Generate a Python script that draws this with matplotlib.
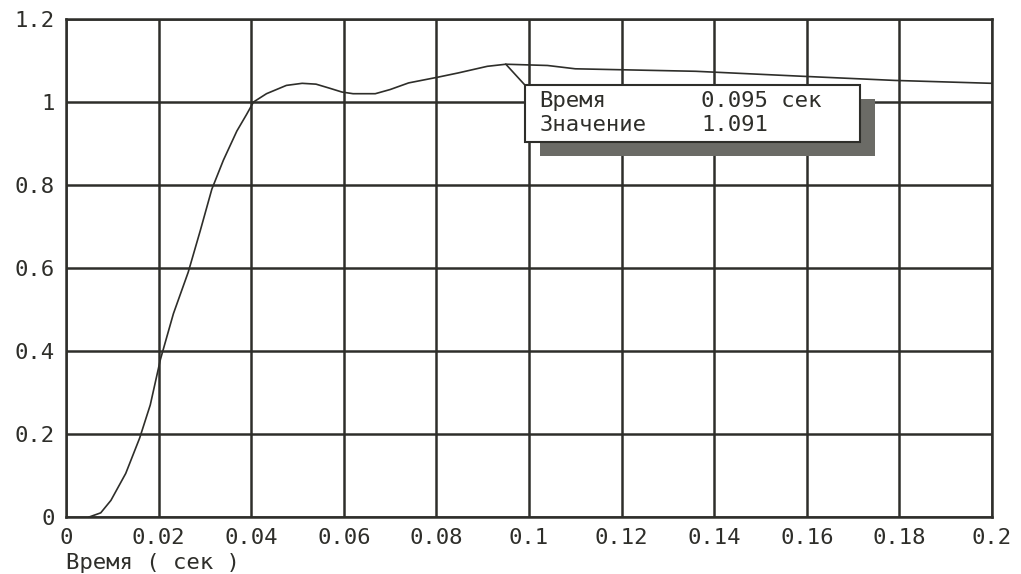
import matplotlib
matplotlib.use('Agg')
import matplotlib.pyplot as plt
from matplotlib.patches import Rectangle

# step response
t = [0.005, 0.0075, 0.0097, 0.0129, 0.0159, 0.0182, 0.0204, 0.0232, 0.0264,
     0.029, 0.0315, 0.034, 0.0369, 0.039, 0.0405, 0.0433, 0.0476, 0.051,
     0.054, 0.057, 0.0596, 0.062, 0.0668, 0.070, 0.074, 0.0804, 0.0847,
     0.091, 0.095, 0.104, 0.110, 0.136, 0.159, 0.179, 0.2]
y = [0.0, 0.01, 0.04, 0.105, 0.19, 0.27, 0.38, 0.49, 0.59,
     0.69, 0.79, 0.86, 0.93, 0.97, 1.0, 1.02, 1.04, 1.045,
     1.043, 1.033, 1.024, 1.02, 1.02, 1.03, 1.046, 1.06, 1.07,
     1.086, 1.091, 1.088, 1.08, 1.074, 1.062, 1.052, 1.045]

x_ticks = [0, 0.02, 0.04, 0.06, 0.08, 0.1, 0.12, 0.14, 0.16, 0.18, 0.2]
x_labels = ['0', '0.02', '0.04', '0.06', '0.08', '0.1', '0.12', '0.14', '0.16', '0.18', '0.2']
y_ticks = [0, 0.2, 0.4, 0.6, 0.8, 1.0, 1.2]
y_labels = ['0', '0.2', '0.4', '0.6', '0.8', '1', '1.2']

cursor_t = 0.095
cursor_val = 1.091
box_lines = [('Время', '0.095 сек'), ('Значение', '1.091')]

ink = '#2e2e2a'
plt.rcParams['font.family'] = ['DejaVu Sans Mono']

fig = plt.figure(figsize=(10.21, 5.74), dpi=100)
ax = fig.add_axes([66 / 1021, 1 - 517 / 574, 926 / 1021, 498 / 574])
ax.set_xlim(0, 0.2)
ax.set_ylim(0, 1.2)
ax.set_xticks(x_ticks, x_labels)
ax.set_yticks(y_ticks, y_labels)
ax.tick_params(length=0, pad=8, labelsize=16, colors=ink)
ax.grid(True, color=ink, lw=1.8)
for s in ax.spines.values():
    s.set_color(ink)
    s.set_linewidth(1.8)

ax.plot(t, y, color=ink, lw=1.2, clip_on=False)

# readout box with shadow
bx0, bx1 = 0.0991, 0.1714
by0, by1 = 0.904, 1.041
ax.add_patch(Rectangle((bx0 + 0.0033, by0 - 0.034), bx1 - bx0, by1 - by0,
                       facecolor='#6b6b66', edgecolor='none', zorder=4))
ax.add_patch(Rectangle((bx0, by0), bx1 - bx0, by1 - by0,
                       facecolor='white', edgecolor=ink, lw=1.5, zorder=5))
ax.plot([cursor_t, bx0], [cursor_val, by1], color=ink, lw=1.2, zorder=5)
for i, (name, val) in enumerate(box_lines):
    yy = 1.003 - i * 0.058
    ax.text(0.1023, yy, name, fontsize=16, color=ink, va='center', zorder=6)
    ax.text(0.1372, yy, val, fontsize=16, color=ink, va='center', zorder=6)

fig.text(66 / 1021, 1 - 563 / 574, 'Время ( сек )', fontsize=16, color=ink,
         va='center', ha='left')

fig.savefig('out.png', dpi=100, facecolor='white')
